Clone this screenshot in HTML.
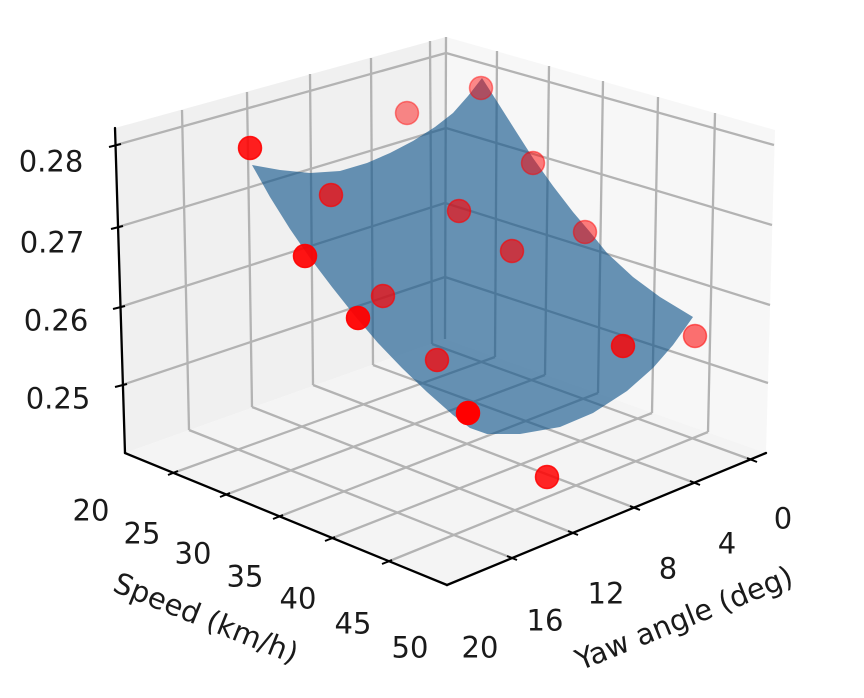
<!DOCTYPE html>
<html><head><meta charset="utf-8"><style>
html,body{margin:0;padding:0;background:#fff;}
svg{display:block;}
text{font-family:"DejaVu Sans","Liberation Sans",sans-serif;fill:#1a1a1a;}
</style></head><body>
<svg width="864" height="698" viewBox="0 0 864 698" xmlns="http://www.w3.org/2000/svg">
<rect width="864" height="698" fill="#fff"/>
<!-- panes -->
<polygon points="115,128 446,37 445,339 125,453" fill="#f0f0f0"/>
<polygon points="446,37 775,130 766,453 445,339" fill="#f7f7f7"/>
<polygon points="125,453 445,339 766,453 447,585" fill="#f4f4f4"/>
<!-- gridlines -->
<g stroke="#b3b3b3" stroke-width="2.3" fill="none">
<line x1="116" y1="145" x2="446" y2="53"/>
<line x1="118" y1="227" x2="446" y2="128"/>
<line x1="120" y1="307" x2="445" y2="203"/>
<line x1="122" y1="385" x2="445" y2="277"/>
<line x1="446" y1="53" x2="774" y2="145"/>
<line x1="446" y1="128" x2="772" y2="225"/>
<line x1="445" y1="203" x2="770" y2="305"/>
<line x1="445" y1="277" x2="768" y2="383"/>
<line x1="182" y1="110" x2="189" y2="430"/>
<line x1="247" y1="92" x2="252" y2="407"/>
<line x1="310" y1="74" x2="313" y2="385"/>
<line x1="371" y1="58" x2="373" y2="365"/>
<line x1="430" y1="41" x2="432" y2="344"/>
<line x1="446" y1="37" x2="445" y2="339"/>
<line x1="497" y1="51" x2="495" y2="357"/>
<line x1="549" y1="66" x2="545" y2="375"/>
<line x1="603" y1="81" x2="598" y2="393"/>
<line x1="658" y1="97" x2="652" y2="413"/>
<line x1="715" y1="113" x2="708" y2="432"/>
<line x1="173" y1="473" x2="495" y2="357"/>
<line x1="225" y1="495" x2="545" y2="375"/>
<line x1="278" y1="517" x2="598" y2="393"/>
<line x1="330" y1="539" x2="652" y2="413"/>
<line x1="387" y1="562" x2="708" y2="432"/>
<line x1="189" y1="430" x2="512" y2="558"/>
<line x1="252" y1="407" x2="573" y2="533"/>
<line x1="313" y1="385" x2="635" y2="508"/>
<line x1="373" y1="365" x2="695" y2="483"/>
<line x1="432" y1="344" x2="752" y2="460"/>
</g>
<!-- axes -->
<g stroke="#000" stroke-width="2.3" fill="none" stroke-linecap="round">
<line x1="115" y1="128" x2="125" y2="453"/>
<line x1="125" y1="453" x2="447" y2="585"/>
<line x1="447" y1="585" x2="766" y2="453"/>
</g>
<g stroke="#000" stroke-width="2">
<line x1="109" y1="147" x2="121" y2="144"/>
<line x1="111" y1="229" x2="123" y2="226"/>
<line x1="113" y1="309" x2="125" y2="306"/>
<line x1="115" y1="387" x2="127" y2="384"/>
<line x1="168" y1="475" x2="178" y2="471"/>
<line x1="220" y1="497" x2="230" y2="493"/>
<line x1="273" y1="519" x2="283" y2="515"/>
<line x1="325" y1="541" x2="335" y2="537"/>
<line x1="382" y1="564" x2="392" y2="560"/>
<line x1="507" y1="556" x2="517" y2="560"/>
<line x1="568" y1="531" x2="578" y2="535"/>
<line x1="630" y1="506" x2="640" y2="510"/>
<line x1="690" y1="481" x2="700" y2="485"/>
<line x1="747" y1="458" x2="757" y2="462"/>
</g>
<!-- surface -->
<path d="M252,165 L270,197 L290,229 L310,258 L332,287 L355,316 L378,343 L402,368 L427,392 L453,415 L470,428 L487,434 L520,434 L560,427 L593,413 L627,391 L653,368 L673,345 L693,317 L660,297 L633,277 L607,253 L590,232 L573,212 L553,186 L533,158 L517,133 L498,103 L482,78 L468,96 L453,113 L435,127 L413,141 L390,153 L367,163 L340,171 L310,173 L280,170 Z" fill="rgb(17,85,139)" fill-opacity="0.63"/>
<!-- points -->
<g stroke-width="1.5">
<circle cx="250" cy="148" r="11.5" fill="#ff0000" stroke="#ff0000" fill-opacity="0.88" stroke-opacity="0.88"/>
<circle cx="407" cy="113" r="11.5" fill="#ff0000" stroke="#ff0000" fill-opacity="0.45" stroke-opacity="0.45"/>
<circle cx="481" cy="88" r="11.5" fill="#ff0000" stroke="#ff0000" fill-opacity="0.45" stroke-opacity="0.45"/>
<circle cx="331" cy="195" r="11.5" fill="#ff0000" stroke="#ff0000" fill-opacity="0.7" stroke-opacity="0.7"/>
<circle cx="459" cy="211" r="11.5" fill="#ff0000" stroke="#ff0000" fill-opacity="0.62" stroke-opacity="0.62"/>
<circle cx="533" cy="163" r="11.5" fill="#ff0000" stroke="#ff0000" fill-opacity="0.5" stroke-opacity="0.5"/>
<circle cx="305" cy="256" r="11.5" fill="#ff0000" stroke="#ff0000" fill-opacity="0.92" stroke-opacity="0.92"/>
<circle cx="512" cy="251" r="11.5" fill="#ff0000" stroke="#ff0000" fill-opacity="0.62" stroke-opacity="0.62"/>
<circle cx="585" cy="232" r="11.5" fill="#ff0000" stroke="#ff0000" fill-opacity="0.5" stroke-opacity="0.5"/>
<circle cx="383" cy="296" r="11.5" fill="#ff0000" stroke="#ff0000" fill-opacity="0.68" stroke-opacity="0.68"/>
<circle cx="358" cy="318" r="11.5" fill="#ff0000" stroke="#ff0000" fill-opacity="0.95" stroke-opacity="0.95"/>
<circle cx="437" cy="360" r="11.5" fill="#ff0000" stroke="#ff0000" fill-opacity="0.72" stroke-opacity="0.72"/>
<circle cx="468" cy="413" r="11.5" fill="#ff0000" stroke="#ff0000" fill-opacity="1" stroke-opacity="1"/>
<circle cx="623" cy="346" r="11.5" fill="#ff0000" stroke="#ff0000" fill-opacity="0.8" stroke-opacity="0.8"/>
<circle cx="695" cy="336" r="11.5" fill="#ff0000" stroke="#ff0000" fill-opacity="0.55" stroke-opacity="0.55"/>
<circle cx="547" cy="477" r="11.5" fill="#ff0000" stroke="#ff0000" fill-opacity="0.85" stroke-opacity="0.85"/>
</g>
<!-- z tick labels -->
<g font-size="29" text-anchor="middle">
<text x="51" y="171.5">0.28</text>
<text x="52" y="252.5">0.27</text>
<text x="56" y="330.5">0.26</text>
<text x="58" y="408.5">0.25</text>
<!-- speed labels -->
<text x="91" y="520.5">20</text>
<text x="142" y="543.5">25</text>
<text x="193" y="563.5">30</text>
<text x="245" y="586.5">35</text>
<text x="298" y="608.5">40</text>
<text x="353" y="633.5">45</text>
<text x="410" y="657.5">50</text>
<!-- yaw labels -->
<text x="783" y="528.5">0</text>
<text x="727" y="553.5">4</text>
<text x="668" y="578.5">8</text>
<text x="606" y="603.5">12</text>
<text x="545" y="630.5">16</text>
<text x="480" y="657.5">20</text>
<!-- axis titles -->
<text transform="translate(206,618) rotate(22)" x="0" y="10">Speed (km/h)</text>
<text transform="translate(684,618) rotate(-22)" x="0" y="10">Yaw angle (deg)</text>
</g>
</svg>
</body></html>
